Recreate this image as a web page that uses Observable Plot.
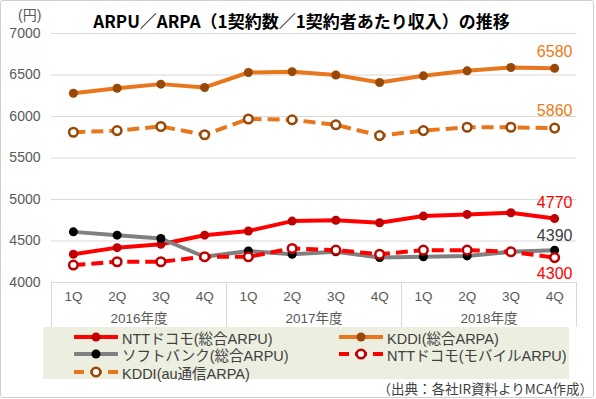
<!DOCTYPE html>
<html><head><meta charset="utf-8">
<script src="https://cdn.jsdelivr.net/npm/d3@7"></script>
<script src="https://cdn.jsdelivr.net/npm/@observablehq/plot@0.6"></script>
<style>
body{margin:0;background:#fff;}
#wrap{position:relative;width:596px;height:399px;overflow:hidden;background:#fff;font-family:"Liberation Sans","Noto Sans CJK JP",sans-serif;}
#border{position:absolute;left:0;top:0;width:592px;height:396px;border:1px solid #d0d0d0;border-radius:3px;}
#chart{position:absolute;left:0;top:0;}
#title{position:absolute;left:0;width:603px;text-align:center;top:9px;font-size:17px;font-weight:bold;color:#000;font-family:"Noto Sans CJK JP",sans-serif;line-height:24px;white-space:nowrap;}
#unit{position:absolute;left:18px;top:6px;font-size:14px;color:#595959;line-height:18px;}
#legend{position:absolute;left:43px;top:327px;width:526px;height:52px;background:#ECEEE0;}
.item{position:absolute;height:18px;display:flex;align-items:center;font-size:14.5px;color:#404040;white-space:nowrap;}
.item svg{margin-right:4px;}
#caption{position:absolute;right:3px;top:379px;font-size:13.5px;color:#404040;line-height:18px;white-space:nowrap;font-family:"Noto Sans CJK JP",sans-serif;}
</style></head>
<body>
<div id="wrap">
  <div id="chart"></div>
  <div id="title">ARPU／ARPA（1契約数／1契約者あたり収入）の推移</div>
  <div id="unit">(円)</div>
  <div id="legend"></div>
  <div id="caption">（出典：各社IR資料よりMCA作成）</div>
  <div id="border"></div>
</div>
<script>
// ---- data ----
const quarters = ["1Q","2Q","3Q","4Q"];
const years = ["2016年度","2017年度","2018年度"];
const yTicks = [4000,4500,5000,5500,6000,6500,7000];
const nttTotal  = [4340,4420,4460,4570,4620,4740,4750,4720,4800,4820,4840,4770];
const kddiTotal = [6280,6340,6390,6350,6530,6540,6500,6410,6490,6550,6590,6580];
const sbTotal   = [4610,4570,4530,4310,4380,4340,4370,4300,4310,4320,4370,4390];
const nttMobile = [4210,4250,4250,4310,4310,4410,4390,4340,4390,4390,4370,4300];
const kddiAu    = [5810,5830,5880,5780,5970,5960,5900,5770,5830,5870,5870,5860];
const seriesNames = ["NTTドコモ(総合ARPU)","KDDI(総合ARPA)","ソフトバンク(総合ARPU)","NTTドコモ(モバイルARPU)","KDDI(au通信ARPA)"];

// ---- styles ----
const styles = [
  {values:nttTotal,  line:"#FF0000", dash:null,  dotFill:"#C00000", dotStroke:"none",    open:false, label:"#FF0000", dy:-16},
  {values:kddiTotal, line:"#E8761C", dash:null,  dotFill:"#984807", dotStroke:"none",    open:false, label:"#F07A12", dy:-16},
  {values:sbTotal,   line:"#808080", dash:null,  dotFill:"#000000", dotStroke:"none",    open:false, label:"#404040", dy:-14},
  {values:nttMobile, line:"#FF0000", dash:"12,6",dotFill:"#FFFFFF", dotStroke:"#C00000", open:true,  label:"#FF0000", dy:16},
  {values:kddiAu,    line:"#E8761C", dash:"12,6",dotFill:"#FFFFFF", dotStroke:"#984807", open:true,  label:"#F07A12", dy:-17}
];

const n = quarters.length * years.length;
const idx = d3.range(n);
const qLabel = i => quarters[i % quarters.length];
const yearCenters = years.map((y, k) => k * quarters.length + (quarters.length - 1) / 2);
const separators = d3.range(years.length + 1).map(k => k * quarters.length - 0.5);

const marks = [
  Plot.gridY(yTicks, {stroke:"#d9d9d9", strokeOpacity:1}),
  Plot.axisY(yTicks, {tickSize:0, tickPadding:11, fontSize:14, fill:"#595959", label:null, tickFormat:d => String(d)}),
  Plot.axisX(separators, {tickSize:45, tickFormat:() => "", stroke:"#d9d9d9", strokeOpacity:1, label:null}),
  Plot.axisX(idx, {tickSize:0, tickPadding:9, tickFormat:qLabel, fontSize:13.5, fill:"#595959", label:null}),
  Plot.axisX(yearCenters, {tickSize:0, tickPadding:31, tickFormat:(d, k) => years[k], fontSize:13.5, fill:"#595959", label:null})
];
styles.forEach((s, k) => {
  const rows = s.values.map((v, i) => ({i, v, name:seriesNames[k]}));
  marks.push(Plot.line(rows, {x:"i", y:"v", stroke:s.line, strokeWidth:4,
    strokeDasharray:s.dash || undefined, strokeLinecap:s.dash ? "butt" : "round"}));
  marks.push(Plot.dot(rows, {x:"i", y:"v", r:s.open ? 4.3 : 4.5, fill:s.dotFill,
    stroke:s.dotStroke, strokeWidth:s.open ? 2.5 : 0}));
});
styles.forEach((s) => {
  const last = [{i:n - 1, v:s.values[n - 1]}];
  marks.push(Plot.text(last, {x:"i", y:"v", text:d => String(d.v), dy:s.dy, fill:s.label, fontSize:16}));
});

const chart = Plot.plot({
  width:596, height:330,
  marginLeft:51, marginRight:20, marginTop:33, marginBottom:48,
  style:{fontFamily:'"Liberation Sans","Noto Sans CJK JP",sans-serif', background:"transparent", overflow:"visible"},
  x:{type:"linear", domain:[-0.5, n - 0.5]},
  y:{domain:[4000, 7000]},
  marks
});
document.getElementById("chart").appendChild(chart);

// ---- legend ----
const legend = document.getElementById("legend");
const cols = [31, 296];
const rowsY = [1, 18, 36];
styles.forEach((s, j) => {
  const div = document.createElement("div");
  div.className = "item";
  div.style.left = cols[j % 2] + "px";
  div.style.top = rowsY[Math.floor(j / 2)] + "px";
  const svg = d3.create("svg").attr("width", 44).attr("height", 18);
  svg.append("line").attr("x1", 0).attr("x2", 44).attr("y1", 9).attr("y2", 9)
    .attr("stroke", s.line).attr("stroke-width", 4)
    .attr("stroke-dasharray", s.dash ? "10,6,12,6,10" : null);
  svg.append("circle").attr("cx", 22).attr("cy", 9).attr("r", s.open ? 4.3 : 4.5)
    .attr("fill", s.dotFill).attr("stroke", s.dotStroke).attr("stroke-width", s.open ? 2.5 : 0);
  div.appendChild(svg.node());
  const span = document.createElement("span");
  span.textContent = seriesNames[j];
  div.appendChild(span);
  legend.appendChild(div);
});
</script>
</body></html>
